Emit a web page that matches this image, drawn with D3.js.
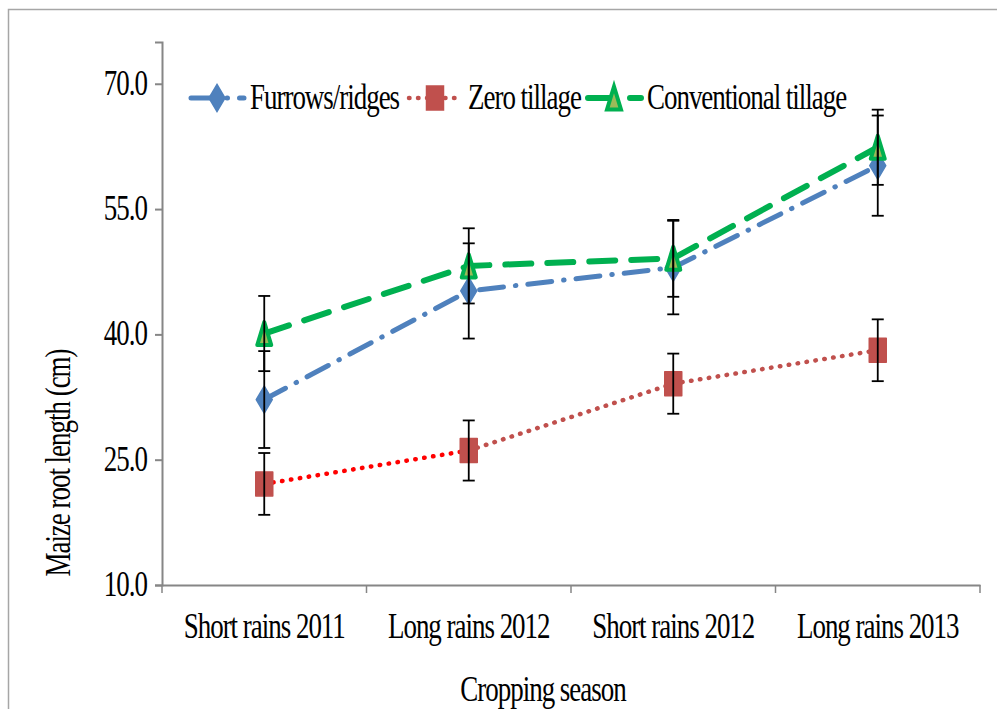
<!DOCTYPE html>
<html>
<head>
<meta charset="utf-8">
<script src="https://cdn.jsdelivr.net/npm/d3@7"></script>
<style>
  body { margin: 0; background: #fff; }
  text { font-family: "Liberation Serif", "Times New Roman", serif; fill: #000; letter-spacing: -1.3px; }
</style>
</head>
<body>
<div id="chart"></div>
<script>
// chart data
var seasons = ["Short rains 2011", "Long rains 2012", "Short rains 2012", "Long rains 2013"];
var furrows = [32.2, 45.2, 48.0, 60.2];
var furrowsErr = [5.8, 5.7, 5.6, 6.0];
var zero = [22.1, 26.1, 34.1, 38.1];
var zeroErr = [3.7, 3.6, 3.6, 3.7];
var conv = [40.1, 48.2, 49.1, 62.4];
var convErr = [4.5, 4.5, 4.6, 4.5];
var yTicks = [10, 25, 40, 55, 70];
var zeroSegColors = ["#ff0000", "#c0504d", "#c0504d"];

var width = 997, height = 709;
var margin = {left: 162, right: 17, top: 42, bottom: 124};
var sx = 0.77; // horizontal squeeze of the text, like the original
var fs = 35;

var svg = d3.select("#chart").append("svg")
    .attr("width", width)
    .attr("height", height);

// outer frame
svg.append("rect")
    .attr("x", 8.5).attr("y", 9.5)
    .attr("width", 1000).attr("height", 720)
    .attr("fill", "none")
    .attr("stroke", "#a6a6a6")
    .attr("stroke-width", 1.5);

var x = d3.scaleBand()
    .domain(seasons)
    .range([margin.left, width - margin.right]);

var y = d3.scaleLinear()
    .domain([10, 75])
    .range([height - margin.bottom, margin.top]);

function label(g, tx, ty, str, size, anchor, rot) {
    return g.append("text")
        .attr("transform", "translate(" + tx + "," + ty + ")" + (rot ? " rotate(" + rot + ")" : "") + " scale(" + sx + ",1)")
        .attr("text-anchor", anchor)
        .style("font-size", size + "px")
        .text(str);
}

// y axis
var yAxis = svg.append("g")
    .attr("transform", "translate(" + margin.left + ",0)")
    .call(d3.axisLeft(y).tickValues(yTicks).tickSize(7).tickFormat(""));
yAxis.select(".domain").attr("stroke", "#868686").attr("stroke-width", 2);
yAxis.selectAll(".tick line").attr("stroke", "#868686").attr("stroke-width", 2);
yTicks.forEach(function (t) {
    label(svg, margin.left - 15, y(t) + 11, d3.format(".1f")(t), fs, "end");
});

// x axis
var xAxis = svg.append("g")
    .attr("transform", "translate(0," + y(10) + ")")
    .call(d3.axisBottom(x).tickSize(0).tickFormat(""));
xAxis.select(".domain").attr("stroke", "#868686").attr("stroke-width", 2);
var bounds = seasons.map(function (s) { return x(s); }).concat([width - margin.right]);
xAxis.selectAll(".sep").data(bounds).enter().append("line")
    .attr("x1", function (d) { return d; })
    .attr("x2", function (d) { return d; })
    .attr("y1", 0).attr("y2", 8)
    .attr("stroke", "#868686").attr("stroke-width", 1.5);
seasons.forEach(function (s) {
    label(svg, x(s) + x.bandwidth() / 2, 638, s, fs, "middle");
});

// axis titles
label(svg, 543, 701, "Cropping season", fs, "middle");
label(svg, 70, 463, "Maize root length (cm)", fs, "middle", -90);

function cx(i) { return x(seasons[i]) + x.bandwidth() / 2; }

// marker shapes
function diamond(w, h) {
    return "M0," + (-h / 2) + "L" + (w / 2) + ",0L0," + (h / 2) + "L" + (-w / 2) + ",0Z";
}
function square(w, h) {
    return "M" + (-w / 2) + "," + (-h / 2) + "h" + w + "v" + h + "h" + (-w) + "Z";
}
function triangle(w, h) {
    return "M0," + (-h / 2) + "L" + (w / 2) + "," + (h / 2) + "L" + (-w / 2) + "," + (h / 2) + "Z";
}

var series = [
    {name: "Furrows/ridges", values: furrows, err: furrowsErr, color: "#4f81bd", dash: "24 12 0.5 12", sw: 5,
        marker: diamond(16, 27), mFill: "#4f81bd", mStroke: "#4f81bd", legendX: 191},
    {name: "Zero tillage", values: zero, err: zeroErr, color: "#c0504d", dash: "0.5 8.5", sw: 4.5,
        marker: square(17, 24), mFill: "#c0504d", mStroke: "#c0504d", legendX: 409},
    {name: "Conventional tillage", values: conv, err: convErr, color: "#00b050", dash: "26 16", sw: 6,
        marker: triangle(14, 23), mFill: "#9bbb59", mStroke: "#00b050", legendX: 588}
];

var line = d3.line()
    .x(function (d) { return cx(d.i); })
    .y(function (d) { return y(d.v); });

// lines
series.forEach(function (s, k) {
    var pts = s.values.map(function (v, i) { return {v: v, i: i}; });
    if (s.name === "Zero tillage") {
        d3.pairs(pts).forEach(function (p, j) {
            svg.append("path")
                .attr("d", line(p))
                .attr("fill", "none")
                .attr("stroke", zeroSegColors[j])
                .attr("stroke-width", s.sw)
                .attr("stroke-linecap", "round")
                .attr("stroke-dasharray", s.dash);
        });
    } else {
        svg.append("path")
            .attr("d", line(pts))
            .attr("fill", "none")
            .attr("stroke", s.color)
            .attr("stroke-width", s.sw)
            .attr("stroke-linecap", "round")
            .attr("stroke-dasharray", s.dash);
    }
});

// markers
series.forEach(function (s) {
    svg.selectAll(null).data(s.values).enter().append("path")
        .attr("d", s.marker)
        .attr("transform", function (d, i) { return "translate(" + cx(i) + "," + y(d) + ")"; })
        .attr("fill", s.mFill)
        .attr("stroke", s.mStroke)
        .attr("stroke-width", s.name === "Conventional tillage" ? 4 : 1.5)
        .attr("stroke-linejoin", "round");
});

// error bars
series.forEach(function (s) {
    var eb = svg.selectAll(null).data(s.values).enter().append("g")
        .attr("stroke", "#000").attr("stroke-width", 1.8);
    eb.append("line")
        .attr("x1", function (d, i) { return cx(i); })
        .attr("x2", function (d, i) { return cx(i); })
        .attr("y1", function (d, i) { return y(d + s.err[i]); })
        .attr("y2", function (d, i) { return y(d - s.err[i]); });
    [1, -1].forEach(function (sg) {
        eb.append("line")
            .attr("x1", function (d, i) { return cx(i) - 6; })
            .attr("x2", function (d, i) { return cx(i) + 6; })
            .attr("y1", function (d, i) { return y(d + sg * s.err[i]); })
            .attr("y2", function (d, i) { return y(d + sg * s.err[i]); });
    });
});

// legend
var ly = 98;
series.forEach(function (s) {
    var g = svg.append("g");
    g.append("line")
        .attr("x1", s.legendX).attr("x2", s.legendX + 53)
        .attr("y1", ly).attr("y2", ly)
        .attr("stroke", s.color)
        .attr("stroke-width", s.sw)
        .attr("stroke-linecap", "round")
        .attr("stroke-dasharray", s.dash);
    g.append("path")
        .attr("d", s.marker)
        .attr("transform", "translate(" + (s.legendX + 26) + "," + ly + ")")
        .attr("fill", s.mFill)
        .attr("stroke", s.mStroke)
        .attr("stroke-width", s.name === "Conventional tillage" ? 4 : 1.5);
    label(g, s.legendX + 59, ly + 11, s.name, fs, "start");
});
</script>
</body>
</html>
